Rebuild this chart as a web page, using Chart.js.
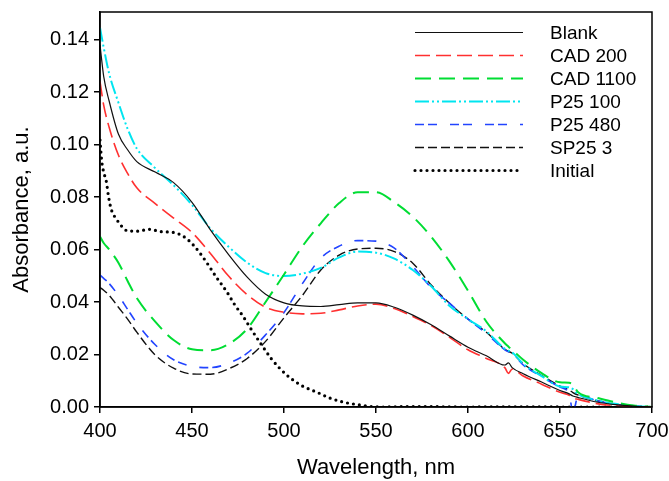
<!DOCTYPE html>
<html>
<head>
<meta charset="utf-8">
<script src="https://cdn.jsdelivr.net/npm/chart.js@4.4.1/dist/chart.umd.min.js"></script>
<style>
  html, body { margin: 0; padding: 0; background: #fff; }
</style>
</head>
<body>
<canvas id="absChart" width="669" height="481"></canvas>
<script>
// wavelength grid (nm) shared by the six spectra
const wavelengths = [400, 402, 405, 410, 415, 420, 430, 440, 450, 460, 470, 480, 490, 500, 510, 520, 530, 540, 550, 560, 570, 580, 590, 600, 610, 620, 622, 624, 630, 640, 650, 655, 657, 660, 670, 680, 690, 700];

const blank   = [0.138, 0.126, 0.1165, 0.104, 0.098, 0.0935, 0.0895, 0.0855, 0.078, 0.0675, 0.058, 0.0495, 0.043, 0.0397, 0.0385, 0.0383, 0.039, 0.0397, 0.0397, 0.038, 0.035, 0.0313, 0.027, 0.0228, 0.0195, 0.016, 0.0168, 0.015, 0.0127, 0.0095, 0.0063, 0.005, 0.0042, 0.0036, 0.0019, 0.0009, 0.0003, 0];
const cad200  = [0.124, 0.115, 0.1065, 0.096, 0.089, 0.0835, 0.0775, 0.072, 0.0665, 0.0585, 0.0498, 0.0428, 0.038, 0.0361, 0.0355, 0.0357, 0.037, 0.0385, 0.0392, 0.0375, 0.0345, 0.031, 0.0265, 0.0218, 0.0185, 0.015, 0.0128, 0.0145, 0.0118, 0.0087, 0.0056, 0.0045, 0.0035, 0.0029, 0.0013, 0.0005, 0.0001, 0];
const cad1100 = [0.065, 0.0625, 0.060, 0.055, 0.048, 0.0415, 0.0325, 0.0255, 0.022, 0.0216, 0.024, 0.0298, 0.040, 0.0505, 0.0612, 0.070, 0.0777, 0.0818, 0.0818, 0.078, 0.0725, 0.0649, 0.0554, 0.0443, 0.0325, 0.0243, 0.023, 0.0218, 0.018, 0.0129, 0.0094, 0.0092, 0.0085, 0.0055, 0.0035, 0.0018, 0.0006, 0];
const p25_100 = [0.1445, 0.137, 0.127, 0.116, 0.106, 0.0985, 0.091, 0.0845, 0.077, 0.068, 0.061, 0.055, 0.051, 0.0499, 0.0508, 0.053, 0.057, 0.0592, 0.0588, 0.0565, 0.0522, 0.046, 0.0385, 0.0335, 0.0288, 0.0222, 0.0215, 0.0208, 0.0165, 0.0118, 0.0078, 0.0075, 0.0068, 0.0048, 0.0026, 0.0012, 0.0004, 0];
const p25_480 = [0.0503, 0.049, 0.047, 0.0425, 0.0372, 0.032, 0.0237, 0.018, 0.0155, 0.015, 0.0167, 0.0205, 0.0275, 0.036, 0.047, 0.0567, 0.0613, 0.0634, 0.0632, 0.0605, 0.0535, 0.0455, 0.0395, 0.0335, 0.028, 0.0218, 0.021, 0.0205, 0.016, 0.0116, 0.0076, 0.005, -0.002, 0.0045, 0.0024, 0.001, 0.0003, 0];
const sp25_3  = [0.0455, 0.0445, 0.0425, 0.038, 0.0335, 0.0285, 0.0198, 0.0148, 0.0126, 0.0125, 0.0146, 0.0185, 0.025, 0.034, 0.0425, 0.0522, 0.0579, 0.0602, 0.0605, 0.0592, 0.0548, 0.0465, 0.0395, 0.0335, 0.0285, 0.022, 0.0212, 0.0205, 0.0165, 0.012, 0.008, 0.0065, 0.0055, 0.0045, 0.0024, 0.001, 0.0003, 0];

// initial spectrum has its own sampling
const initialWl = [400, 400.5, 401, 402, 403.5, 404.5, 405.5, 406.5, 408, 410, 412, 415, 420, 427, 433, 440, 446, 451, 455, 459, 463, 469, 473, 478, 482, 488, 493, 498, 503, 510, 518, 525, 532, 540, 547, 555, 570, 600, 630, 655, 680, 700];
const initial   = [0.1017, 0.0971, 0.0933, 0.0895, 0.0857, 0.0808, 0.077, 0.0745, 0.0725, 0.0705, 0.0687, 0.0671, 0.067, 0.0677, 0.0668, 0.0665, 0.0647, 0.0615, 0.058, 0.054, 0.0497, 0.0438, 0.0392, 0.0343, 0.0298, 0.0235, 0.0185, 0.0145, 0.0113, 0.008, 0.0056, 0.0034, 0.0019, 0.0009, 0.0002, 0, 0.0002, 0, 0.0001, 0, 0, 0];

const xTicks = [400, 450, 500, 550, 600, 650, 700];
const yTicks = [0, 0.02, 0.04, 0.06, 0.08, 0.10, 0.12, 0.14];

const FONT = '"Liberation Sans", Arial, sans-serif';

function pts(xs, ys) {
    return xs.map((x, i) => ({ x: x, y: ys[i] }));
}

function line(label, xs, ys, color, dash, width) {
    return {
        label: label,
        data: pts(xs, ys),
        borderColor: color,
        borderDash: dash,
        borderWidth: width,
        pointRadius: 0,
        fill: false,
        cubicInterpolationMode: 'monotone'
    };
}

const datasets = [
    line('Blank', wavelengths, blank, '#111111', [], 1.2),
    line('CAD 200', wavelengths, cad200, '#ff3030', [15, 6], 1.6),
    line('CAD 1100', wavelengths, cad1100, '#00dd33', [16, 8], 2),
    line('P25 100', wavelengths, p25_100, '#00e5f0', [14, 3, 2, 3, 2, 3], 2),
    line('P25 480', wavelengths, p25_480, '#2244ff', [9, 4, 9, 13], 1.6),
    line('SP25 3', wavelengths, sp25_3, '#111111', [9, 4], 1.4),
    line('Initial', initialWl, initial, '#000000', [0, 6], 3.2)
];
datasets[6].borderCapStyle = 'round';

// box round the plot area
const framePlugin = {
    id: 'frame',
    afterDraw(chart) {
        const a = chart.chartArea;
        const c = chart.ctx;
        c.save();
        c.strokeStyle = '#000';
        c.lineWidth = 1.5;
        c.strokeRect(a.left, a.top, a.right - a.left, a.bottom - a.top);
        c.restore();
    }
};

// legend inside the plot, top right, lines then names
const legendPlugin = {
    id: 'insideLegend',
    afterDraw(chart) {
        const c = chart.ctx;
        c.save();
        chart.data.datasets.forEach((ds, i) => {
            const y = 32.5 + i * 23;
            c.beginPath();
            c.strokeStyle = ds.borderColor;
            c.lineWidth = ds.borderWidth;
            c.lineCap = ds.borderCapStyle || 'butt';
            c.setLineDash(ds.borderDash || []);
            c.moveTo(415, y);
            c.lineTo(523, y);
            c.stroke();
            c.setLineDash([]);
            c.fillStyle = '#000';
            c.font = '19px ' + FONT;
            c.textBaseline = 'middle';
            c.textAlign = 'left';
            c.fillText(ds.label, 550, y + 1);
        });
        c.restore();
    }
};

const ctx = document.getElementById('absChart').getContext('2d');
const myChart = new Chart(ctx, {
    type: 'line',
    data: { datasets: datasets },
    options: {
        responsive: false,
        animation: false,
        devicePixelRatio: 1,
        layout: { padding: { top: 12, right: 17, left: 0, bottom: 0 } },
        plugins: {
            legend: { display: false },
            tooltip: { enabled: false }
        },
        scales: {
            x: {
                type: 'linear',
                min: 400,
                max: 700,
                afterFit: s => { s.height = 74; s.paddingLeft = 0; s.paddingRight = 0; },
                afterBuildTicks: s => { s.ticks = xTicks.map(v => ({ value: v })); },
                ticks: { color: '#000', font: { family: FONT, size: 20 }, padding: 6, maxRotation: 0 },
                grid: { drawOnChartArea: false, color: '#000', tickLength: 6, lineWidth: 1.5 },
                border: { color: '#000', width: 1.5 },
                title: { display: true, text: 'Wavelength, nm', color: '#000', font: { family: FONT, size: 22 }, padding: { top: 0, bottom: 0 } }
            },
            y: {
                type: 'linear',
                min: 0,
                max: 0.1505,
                afterFit: s => { s.width = 100; s.paddingTop = 0; s.paddingBottom = 0; },
                afterBuildTicks: s => { s.ticks = yTicks.map(v => ({ value: v })); },
                ticks: { color: '#000', font: { family: FONT, size: 20 }, padding: 5, callback: v => v.toFixed(2) },
                grid: { drawOnChartArea: false, color: '#000', tickLength: 6, lineWidth: 1.5 },
                border: { color: '#000', width: 1.5 },
                title: { display: true, text: 'Absorbance, a.u.', color: '#000', font: { family: FONT, size: 22 }, padding: { top: 9, bottom: 0 } }
            }
        }
    },
    plugins: [framePlugin, legendPlugin]
});
</script>
</body>
</html>
